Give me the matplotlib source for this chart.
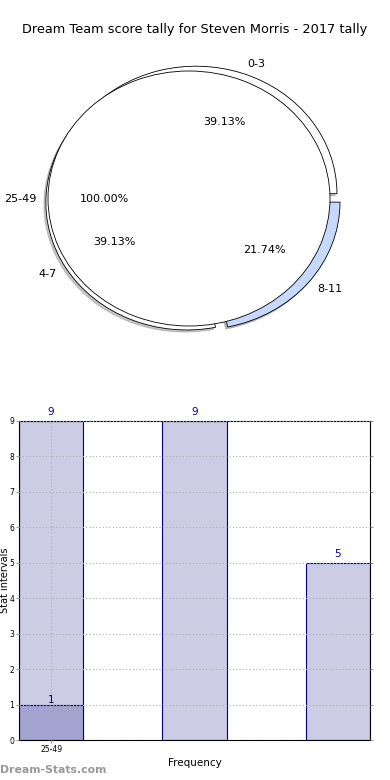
import matplotlib
matplotlib.use("Agg")
import matplotlib.pyplot as plt

# Dane wykresu.
labels = ["0-3", "4-7", "8-11"]
counts = [9, 9, 5]
extra_label = "25-49"
extra_count = 1
pie_colors = ["#ffffff", "#ffffff", "#c6d9fd"]
explode = [0.04, 0.06, 0.045]
extra_explode = [0.036]

TITLE = "Dream Team score tally for Steven Morris - 2017 tally"


def main() -> None:
    fig = plt.figure(figsize=(3.9, 7.8), dpi=100)
    fig.text(0.5, 1 - 30 / 780, TITLE, ha="center", va="center", fontsize=9.3)

    # Wykres kołowy (elipsa, bez równych proporcji).
    cx, cy, rx, ry = 189 + extra_explode[0] * 141, 198.5, 141, 127.5
    lim = 1.3
    ax_pie = fig.add_axes([
        (cx - lim * rx) / 390, 1 - (cy + lim * ry) / 780,
        2 * lim * rx / 390, 2 * lim * ry / 780,
    ])
    ax_pie.pie(
        counts, labels=labels, colors=pie_colors, explode=explode,
        radius=1.0, startangle=0,
        shadow={"ox": -0.01, "oy": -0.012, "shade": 0.45},
        autopct="%.2f%%", pctdistance=0.6, labeldistance=1.08,
        wedgeprops=dict(edgecolor="black", linewidth=0.6),
        textprops=dict(fontsize=8),
    )
    ax_pie.pie(
        [extra_count], labels=[extra_label], colors=["#ffffff"],
        explode=extra_explode, radius=1.0, startangle=0,
        autopct="%.2f%%", pctdistance=0.6, labeldistance=1.08,
        wedgeprops=dict(edgecolor="black", linewidth=0.6),
        textprops=dict(fontsize=8),
    )
    ax_pie.set_xlim(-lim, lim)
    ax_pie.set_ylim(-lim, lim)
    ax_pie.set_aspect("auto")
    ax_pie.axis("off")

    # Wykres słupkowy.
    ax = fig.add_axes([19 / 390, 40 / 780, 351 / 390, 319 / 780])
    xs = list(range(len(counts)))
    width = 0.448
    bars = ax.bar(xs, counts, width=width, color="#cccce5",
                  edgecolor="#000080", linewidth=0.8)
    ax.bar([0], [extra_count], width=width, color="#a3a3d0",
           edgecolor="#000080", linewidth=0.8)
    for rect, val in zip(bars, counts):
        ax.text(rect.get_x() + rect.get_width() / 2, val + 0.1, str(val),
                ha="center", va="bottom", fontsize=7.5, color="#000080")
    ax.text(0, extra_count - 0.02, str(extra_count), ha="center", va="bottom",
            fontsize=7.5, color="#000080")

    ax.set_xlim(-width / 2, len(counts) - 1 + width / 2)
    ax.set_ylim(0, max(counts))
    ax.set_yticks(range(0, max(counts) + 1))
    ax.set_xticks([0])
    ax.set_xticklabels([extra_label])
    ax.tick_params(labelsize=5.5, length=2, pad=1.5, color="#999999")
    ax.tick_params(axis="y", right=True)
    ax.grid(True, linestyle=(0, (1, 2)), color="#b0b0b0", linewidth=0.8)
    ax.set_axisbelow(False)
    ax.set_xlabel("Frequency", fontsize=7.5, labelpad=3)
    for s in ax.spines.values():
        s.set_linewidth(0.8)
    fig.text(0.0, 1 - 580 / 780, "Stat intervals", rotation=90,
             ha="left", va="center", fontsize=7)

    fig.text(0.0, 1 - 770 / 780, "Dream-Stats.com", ha="left", va="center",
             fontsize=7.8, color="#999999", fontweight="bold")

    fig.savefig("out.png", dpi=100)
    plt.close(fig)


if __name__ == "__main__":
    main()
